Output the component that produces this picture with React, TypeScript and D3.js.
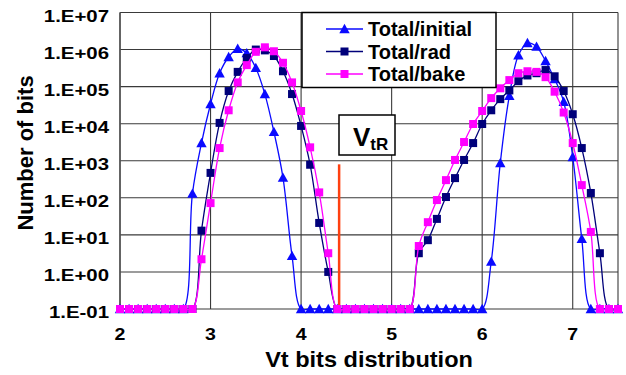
// Vt bit distribution plot (log scale) with d3.

import * as d3 from "d3";

const vt = [
  2.0, 2.1, 2.2, 2.3, 2.4, 2.5, 2.6, 2.7, 2.8, 2.9,
  3.0, 3.1, 3.2, 3.3, 3.4, 3.5, 3.6, 3.7, 3.8, 3.9,
  4.0, 4.1, 4.2, 4.3, 4.4, 4.5, 4.6, 4.7, 4.8, 4.9,
  5.0, 5.1, 5.2, 5.3, 5.4, 5.5, 5.6, 5.7, 5.8, 5.9,
  6.0, 6.1, 6.2, 6.3, 6.4, 6.5, 6.6, 6.7, 6.8, 6.9,
  7.0, 7.1, 7.2, 7.3, 7.4, 7.5,
];

// zero counts are shown on the 1E-1 floor
const totalInitial = [
  0.1, 0.1, 0.1, 0.1, 0.1, 0.1, 0.1, 0.1, 130, 3000,
  34000, 230000, 630000, 1050000, 800000, 320000, 63000, 6000, 350, 2.7,
  0.1, 0.1, 0.1, 0.1, 0.1, 0.1, 0.1, 0.1, 0.1, 0.1,
  0.1, 0.1, 0.1, 0.1, 0.1, 0.1, 0.1, 0.1, 0.1, 0.1,
  0.1, 1.9, 870, 56000, 700000, 1500000, 1200000, 490000, 160000, 39000,
  1260, 7.8, 0.1, 0.1, 0.1, 0.1,
];

const totalRad = [
  0.1, 0.1, 0.1, 0.1, 0.1, 0.1, 0.1, 0.1, 0.1, 13,
  470, 10500, 76000, 250000, 590000, 1000000, 950000, 670000, 260000, 63000,
  8700, 780, 21, 1, 0.1, 0.1, 0.1, 0.1, 0.1, 0.1,
  0.1, 0.1, 0.1, 3.2, 7.2, 27, 105, 340, 1050, 3000,
  9800, 23000, 46000, 79000, 140000, 200000, 230000, 280000, 190000, 76000,
  18000, 2200, 135, 3.2, 0.1, 0.1,
];

const totalBake = [
  0.1, 0.1, 0.1, 0.1, 0.1, 0.1, 0.1, 0.1, 0.1, 2.2,
  72, 2200, 23000, 130000, 380000, 870000, 1150000, 900000, 440000, 130000,
  22000, 2300, 140, 3.2, 0.1, 0.1, 0.1, 0.1, 0.1, 0.1,
  0.1, 0.1, 0.1, 5, 22, 87, 300, 1050, 3200, 9800,
  22000, 49000, 90000, 150000, 230000, 260000, 250000, 180000, 73000, 20000,
  3000, 220, 12, 0.1, 0.1, 0.1,
];

const seriesNames = ["Total/initial", "Total/rad", "Total/bake"];
const yTicks = [0.1, 1, 10, 100, 1e3, 1e4, 1e5, 1e6, 1e7];
const yTickLabels = [
  "1.E-01", "1.E+00", "1.E+01", "1.E+02", "1.E+03",
  "1.E+04", "1.E+05", "1.E+06", "1.E+07",
];
const xTicks = [2, 3, 4, 5, 6, 7];
const vtrX = 4.42;
const vtrTop = 800;

const FONT = "Arial, 'Liberation Sans', Helvetica, sans-serif";

function Marker({ kind, x, y, color }) {
  if (kind === "tri") {
    const s = 5.2;
    return (
      <path
        d={`M${x},${y - s}L${x + s},${y + s * 0.8}L${x - s},${y + s * 0.8}Z`}
        fill={color}
      />
    );
  }
  return <rect x={x - 4} y={y - 4} width={8} height={8} fill={color} />;
}

export default function App() {
  const width = 626;
  const height = 375;
  const [left, right, top, bottom] = [120, 618, 12.5, 309];

  const scaleX = d3.scaleLinear([2, 7.5], [left, right]);
  const scaleY = d3.scaleLog([0.1, 1e7], [bottom, top]);

  const line = d3
    .line<number>((d, i) => scaleX(vt[i]), (d) => scaleY(d))
    .curve(d3.curveCatmullRom.alpha(0.5));

  const series = [
    { name: seriesNames[0], values: totalInitial, color: "#0a0aff", kind: "tri" },
    { name: seriesNames[1], values: totalRad, color: "#00007a", kind: "sq" },
    { name: seriesNames[2], values: totalBake, color: "#ff00ff", kind: "sq" },
  ];

  return (
    <svg
      width={width}
      height={height}
      style={{ position: "absolute", left: 0, top: 0, background: "white" }}
      fontFamily={FONT}
    >
      <rect width={width} height={height} fill="white" />
      {/* grid */}
      <g stroke="#3a3a3a" strokeWidth={1.1}>
        {yTicks.map((t) => (
          <line key={t} x1={left} x2={right} y1={scaleY(t)} y2={scaleY(t)} />
        ))}
        {xTicks.concat([7.5]).map((t) => (
          <line key={t} x1={scaleX(t)} x2={scaleX(t)} y1={top} y2={bottom} />
        ))}
      </g>
      <line x1={left} x2={left} y1={top} y2={bottom} stroke="#555" strokeWidth={1.5} />

      {/* tick labels */}
      <g fontWeight="bold" fontSize={17} fill="black">
        {yTicks.map((t, i) => (
          <text
            key={t}
            textAnchor="end"
            transform={`translate(109, ${scaleY(t) + 9}) scale(1.2, 1)`}
          >
            {yTickLabels[i]}
          </text>
        ))}
        {xTicks.map((t) => (
          <text
            key={t}
            textAnchor="middle"
            transform={`translate(${scaleX(t)}, 340) scale(1.15, 1)`}
          >
            {t}
          </text>
        ))}
      </g>

      {/* axis titles */}
      <text
        fontWeight="bold"
        fontSize={22}
        textAnchor="middle"
        transform={`translate(369, 367) scale(1.07, 1)`}
      >
        Vt bits distribution
      </text>
      <text
        fontWeight="bold"
        fontSize={22}
        textAnchor="middle"
        transform={`translate(33, 153) rotate(-90)`}
      >
        Number of bits
      </text>

      {/* VtR marker line */}
      <line
        x1={scaleX(vtrX)}
        x2={scaleX(vtrX)}
        y1={scaleY(vtrTop)}
        y2={scaleY(0.1)}
        stroke="#ff4010"
        strokeWidth={2.5}
      />

      {/* series */}
      {series.map((s) => (
        <g key={s.name}>
          <path d={line(s.values)} fill="none" stroke={s.color} strokeWidth={1.3} />
          {s.values.map((v, i) => (
            // biome-ignore lint/suspicious/noArrayIndexKey: fixed data
            <Marker key={i} kind={s.kind} x={scaleX(vt[i])} y={scaleY(v)} color={s.color} />
          ))}
        </g>
      ))}

      {/* VtR label */}
      <rect x={339} y={115} width={56} height={40} fill="white" stroke="black" strokeWidth={1.5} />
      <text x={353} y={146} fontWeight="bold" fontSize={26}>
        V
        <tspan fontSize={17} dy={4}>
          tR
        </tspan>
      </text>

      {/* legend */}
      <rect x={302} y={12.5} width={194} height={75} fill="white" stroke="black" strokeWidth={1.5} />
      {series.map((s, i) => {
        const ly = 29 + i * 22.5;
        return (
          <g key={s.name}>
            <line x1={326} x2={363} y1={ly} y2={ly} stroke={s.color} strokeWidth={1.3} />
            <Marker kind={s.kind} x={344.5} y={ly} color={s.color} />
            <text x={368} y={ly + 7} fontWeight="bold" fontSize={20}>
              {s.name}
            </text>
          </g>
        );
      })}
    </svg>
  );
}
